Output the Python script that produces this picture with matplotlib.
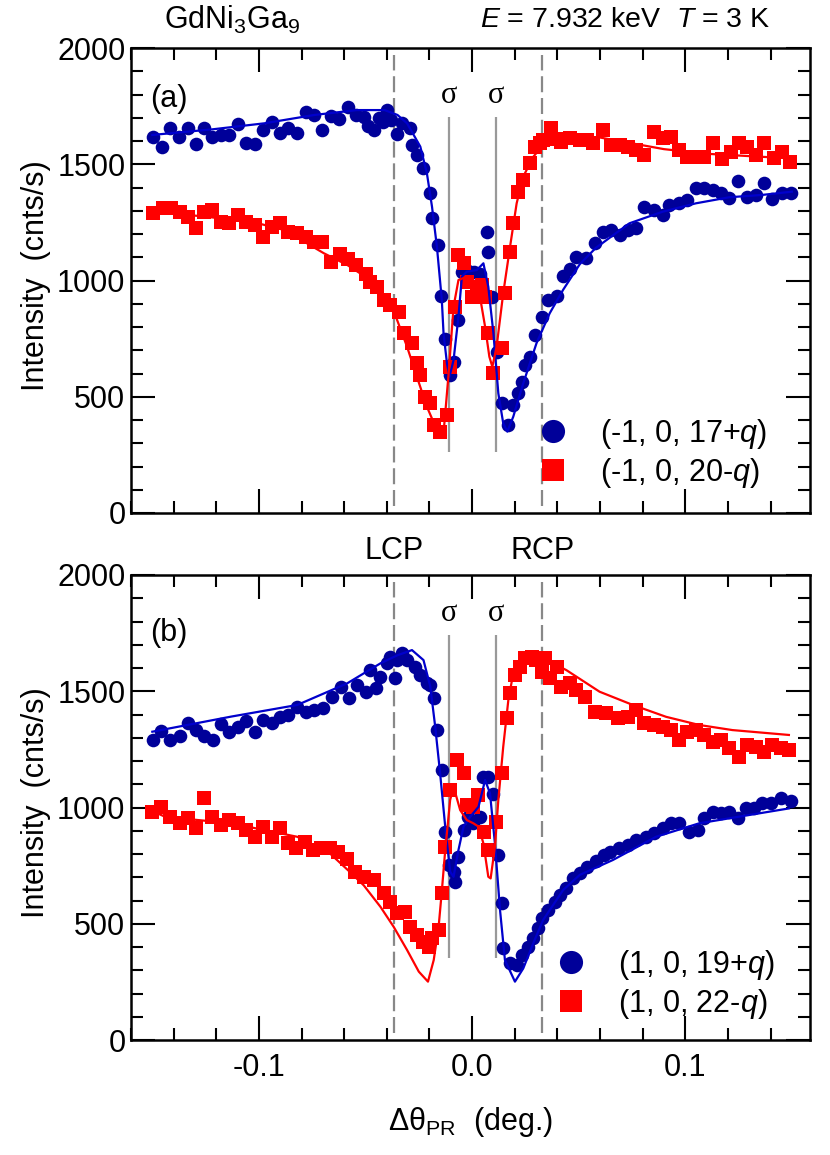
import matplotlib
matplotlib.use("Agg")
import matplotlib.pyplot as plt
from matplotlib.ticker import MultipleLocator

plt.rcParams['font.family'] = ['Liberation Sans', 'DejaVu Sans']
plt.rcParams['mathtext.fontset'] = 'custom'
plt.rcParams['mathtext.rm'] = 'Liberation Sans'
plt.rcParams['mathtext.it'] = 'Liberation Sans:italic'
plt.rcParams['mathtext.bf'] = 'Liberation Sans:bold'

# ---------------- data: panel (a) ----------------
a_blue_x = [-0.1497, -0.1453, -0.1415, -0.1375, -0.1333, -0.1297, -0.1258, -0.1220, -0.1178, -0.1139,
            -0.1100, -0.1060, -0.1019, -0.0980, -0.0940, -0.0900, -0.0863, -0.0820, -0.0780, -0.0742,
            -0.0702, -0.0664, -0.0625, -0.0583, -0.0544, -0.0508, -0.0490, -0.0460, -0.0438, -0.0420,
            -0.0400, -0.0380, -0.0352, -0.0329, -0.0293, -0.0282, -0.0259, -0.0228, -0.0196, -0.0188,
            -0.0162, -0.0145, -0.0126, -0.0103, -0.0084, -0.0064, -0.0048, -0.0020, 0.0010, 0.0035,
            0.0069, 0.0076, 0.0092, 0.0115, 0.0139, 0.0170, 0.0193, 0.0217, 0.0232, 0.0248,
            0.0271, 0.0294, 0.0326, 0.0357, 0.0396, 0.0427, 0.0458, 0.0489, 0.0536, 0.0575,
            0.0614, 0.0653, 0.0692, 0.0730, 0.0770, 0.0808, 0.0855, 0.0894, 0.0925, 0.0972,
            0.1010, 0.1050, 0.1089, 0.1128, 0.1167, 0.1206, 0.1249, 0.1291, 0.1330, 0.1369,
            0.1408, 0.1455, 0.1494]
a_blue_y = [1618, 1575, 1655, 1618, 1655, 1587, 1655, 1618, 1626, 1626,
            1673, 1590, 1587, 1647, 1683, 1633, 1655, 1636, 1726, 1712,
            1647, 1707, 1693, 1747, 1712, 1704, 1664, 1647, 1698, 1680,
            1733, 1690, 1630, 1677, 1655, 1583, 1540, 1483, 1375, 1268,
            1153, 934, 747, 594, 651, 830, 1038, 1040, 1035, 1030,
            1210, 1124, 930, 694, 472, 378, 464, 515, 565, 637,
            672, 766, 844, 916, 935, 1020, 1050, 1103, 1095, 1160,
            1210, 1217, 1196, 1217, 1224, 1317, 1303, 1282, 1325, 1332,
            1346, 1396, 1396, 1389, 1375, 1353, 1429, 1360, 1368, 1418,
            1349, 1375, 1375]

a_red_x = [-0.1497, -0.1450, -0.1411, -0.1372, -0.1333, -0.1297, -0.1258, -0.1220, -0.1180, -0.1139,
           -0.1100, -0.1060, -0.1019, -0.0980, -0.0940, -0.0900, -0.0863, -0.0820, -0.0780, -0.0742,
           -0.0702, -0.0660, -0.0621, -0.0582, -0.0543, -0.0500, -0.0477, -0.0445, -0.0414, -0.0383,
           -0.0344, -0.0320, -0.0282, -0.0259, -0.0243, -0.0220, -0.0196, -0.0180, -0.0150, -0.0118,
           -0.0103, -0.0079, -0.0064, -0.0040, -0.0025, 0.0000, 0.0022, 0.0045, 0.0061, 0.0076,
           0.0100, 0.0139, 0.0154, 0.0178, 0.0193, 0.0217, 0.0240, 0.0271, 0.0294, 0.0318,
           0.0333, 0.0372, 0.0395, 0.0419, 0.0458, 0.0505, 0.0540, 0.0567, 0.0614, 0.0653,
           0.0692, 0.0730, 0.0770, 0.0808, 0.0855, 0.0894, 0.0933, 0.0972, 0.1010, 0.1050,
           0.1089, 0.1128, 0.1171, 0.1213, 0.1252, 0.1291, 0.1330, 0.1369, 0.1416, 0.1452,
           0.1489]
a_red_y = [1289, 1310, 1310, 1296, 1274, 1224, 1296, 1303, 1253, 1246,
           1282, 1253, 1239, 1188, 1232, 1246, 1210, 1203, 1188, 1167,
           1167, 1078, 1113, 1092, 1066, 1028, 995, 970, 916, 895,
           866, 773, 730, 644, 594, 500, 472, 378, 350, 422,
           629, 887, 1110, 1074, 995, 930, 973, 981, 930, 773,
           601, 708, 945, 1124, 1246, 1382, 1432, 1504, 1575, 1590,
           1604, 1655, 1610, 1597, 1611, 1604, 1605, 1590, 1647, 1583,
           1583, 1575, 1561, 1540, 1640, 1611, 1618, 1561, 1532, 1532,
           1532, 1590, 1521, 1554, 1590, 1575, 1540, 1590, 1525, 1554,
           1511]

a_blue_fit_x = [-0.150, -0.122, -0.0975, -0.074, -0.054, -0.041, -0.035, -0.0305, -0.0243, -0.0212,
                -0.0188, -0.0165, -0.0142, -0.0134, -0.0118, -0.0106, -0.0087, -0.0064, -0.0048, -0.0025,
                0.0022, 0.0053, 0.0076, 0.0100, 0.0123, 0.0146, 0.0165, 0.0193, 0.0240, 0.0302,
                0.0364, 0.0427, 0.0505, 0.0580, 0.0738, 0.0894, 0.1050, 0.1206, 0.1360, 0.1500]
a_blue_fit_y = [1626, 1650, 1676, 1712, 1733, 1733, 1712, 1676, 1576, 1461,
                1317, 1145, 916, 773, 644, 586, 658, 844, 1016, 1038,
                1045, 1074, 973, 773, 515, 386, 350, 414, 558, 730,
                859, 960, 1070, 1140, 1246, 1296, 1332, 1358, 1368, 1382]

a_red_fit_x = [-0.150, -0.125, -0.100, -0.088, -0.0695, -0.0586, -0.0477, -0.0368, -0.0305, -0.0259,
               -0.0212, -0.0165, -0.0134, -0.0110, -0.0087, -0.0064, -0.0025, 0.0006, 0.0037, 0.0061,
               0.0081, 0.0095, 0.0115, 0.0146, 0.0178, 0.0209, 0.0240, 0.0287, 0.0333, 0.0427,
               0.0600, 0.0750, 0.0900, 0.1100, 0.1300, 0.1500]
a_red_fit_y = [1295, 1275, 1245, 1217, 1117, 1067, 1002, 870, 715, 586,
               457, 357, 343, 601, 887, 1002, 1016, 995, 930, 801,
               672, 629, 715, 945, 1145, 1332, 1447, 1532, 1583, 1625,
               1615, 1590, 1565, 1545, 1535, 1525]

# ---------------- data: panel (b) ----------------
b_blue_x = [-0.1497, -0.1458, -0.1415, -0.1372, -0.1333, -0.1294, -0.1256, -0.1217, -0.1178, -0.1139,
            -0.1100, -0.1060, -0.1019, -0.0980, -0.0940, -0.0900, -0.0863, -0.0820, -0.0780, -0.0742,
            -0.0698, -0.0656, -0.0617, -0.0578, -0.0539, -0.0500, -0.0480, -0.0453, -0.0430, -0.0399,
            -0.0383, -0.0360, -0.0352, -0.0329, -0.0305, -0.0266, -0.0243, -0.0212, -0.0196, -0.0180,
            -0.0165, -0.0142, -0.0126, -0.0110, -0.0087, -0.0079, -0.0064, -0.0040, -0.0017, 0.0006,
            0.0037, 0.0053, 0.0076, 0.0097, 0.0123, 0.0139, 0.0146, 0.0178, 0.0209, 0.0232,
            0.0263, 0.0287, 0.0310, 0.0326, 0.0357, 0.0388, 0.0411, 0.0442, 0.0474, 0.0505,
            0.0540, 0.0580, 0.0617, 0.0645, 0.0690, 0.0730, 0.0770, 0.0816, 0.0855, 0.0894,
            0.0933, 0.0972, 0.1019, 0.1058, 0.1089, 0.1128, 0.1167, 0.1206, 0.1245, 0.1283,
            0.1322, 0.1362, 0.1400, 0.1447, 0.1494]
b_blue_y = [1290, 1330, 1290, 1307, 1362, 1333, 1307, 1290, 1359, 1326,
            1347, 1373, 1326, 1376, 1362, 1388, 1398, 1433, 1412, 1419,
            1426, 1476, 1520, 1470, 1527, 1498, 1591, 1513, 1563, 1620,
            1649, 1556, 1634, 1663, 1634, 1606, 1570, 1534, 1527, 1470,
            1333, 1161, 896, 753, 724, 681, 788, 903, 960, 932,
            960, 1132, 1130, 1058, 796, 588, 394, 330, 323, 366,
            401, 437, 480, 523, 559, 595, 624, 652, 695, 720,
            745, 770, 795, 810, 825, 839, 860, 874, 889, 910,
            932, 932, 896, 903, 953, 982, 975, 982, 953, 996,
            996, 1018, 1018, 1039, 1029]

b_red_x = [-0.1500, -0.1458, -0.1415, -0.1372, -0.1333, -0.1297, -0.1256, -0.1220, -0.1180, -0.1139,
           -0.1100, -0.1060, -0.1019, -0.0980, -0.0940, -0.0900, -0.0863, -0.0824, -0.0785, -0.0746,
           -0.0707, -0.0668, -0.0630, -0.0588, -0.0547, -0.0508, -0.0461, -0.0414, -0.0383, -0.0352,
           -0.0313, -0.0290, -0.0259, -0.0228, -0.0204, -0.0188, -0.0157, -0.0142, -0.0126, -0.0103,
           -0.0072, -0.0040, -0.0025, 0.0006, 0.0029, 0.0056, 0.0076, 0.0112, 0.0139, 0.0162,
           0.0178, 0.0201, 0.0224, 0.0248, 0.0279, 0.0302, 0.0326, 0.0341, 0.0364, 0.0396,
           0.0419, 0.0458, 0.0489, 0.0528, 0.0575, 0.0629, 0.0684, 0.0730, 0.0770, 0.0808,
           0.0855, 0.0894, 0.0933, 0.0972, 0.1010, 0.1050, 0.1089, 0.1128, 0.1167, 0.1206,
           0.1252, 0.1291, 0.1330, 0.1369, 0.1408, 0.1447, 0.1486]
b_red_y = [982, 1003, 960, 932, 953, 910, 1039, 960, 925, 946,
           932, 903, 874, 917, 874, 910, 846, 824, 853, 817,
           824, 824, 810, 778, 724, 702, 688, 631, 595, 545,
           552, 487, 452, 423, 401, 437, 473, 631, 831, 1075,
           1204, 1147, 1011, 1003, 1054, 896, 817, 939, 1147, 1384,
           1491, 1570, 1606, 1641, 1649, 1634, 1584, 1641, 1556, 1606,
           1520, 1534, 1505, 1476, 1412, 1405, 1384, 1391, 1419, 1362,
           1355, 1347, 1333, 1290, 1326, 1333, 1312, 1283, 1290, 1255,
           1218, 1269, 1261, 1240, 1269, 1255, 1247]

b_blue_fit_x = [-0.150, -0.113, -0.082, -0.0586, -0.043, -0.035, -0.0282, -0.0228, -0.0196, -0.0173,
                -0.0150, -0.0126, -0.0103, -0.0087, -0.0064, -0.0040, -0.0009, 0.0030, 0.0061, 0.0084,
                0.0107, 0.0131, 0.0154, 0.0201, 0.0240, 0.0287, 0.0333, 0.0427, 0.0505, 0.0660,
                0.0863, 0.1065, 0.1486]
b_blue_fit_y = [1326, 1391, 1441, 1534, 1620, 1655, 1677, 1634, 1520, 1347,
                1147, 917, 724, 702, 817, 918, 960, 1003, 1118, 1061,
                846, 559, 344, 251, 308, 416, 516, 645, 710, 774,
                874, 932, 996]

b_red_fit_x = [-0.150, -0.144, -0.113, -0.082, -0.0664, -0.0570, -0.0508, -0.0430, -0.0368, -0.0305,
               -0.0250, -0.0207, -0.0180, -0.0157, -0.0142, -0.0126, -0.0103, -0.0087, -0.0056, -0.0025,
               0.0006, 0.0030, 0.0053, 0.0076, 0.0087, 0.0107, 0.0123, 0.0146, 0.0170, 0.0193,
               0.0224, 0.0271, 0.0318, 0.0350, 0.0442, 0.0598, 0.0754, 0.0910, 0.1065, 0.1221,
               0.1486]
b_red_fit_y = [985, 960, 932, 874, 800, 720, 665, 573, 487, 387,
               294, 251, 344, 487, 640, 817, 1032, 1090, 989, 946,
               932, 918, 846, 702, 695, 831, 1032, 1261, 1462, 1577,
               1634, 1663, 1649, 1634, 1591, 1498, 1441, 1390, 1355, 1333,
               1312]

labels_a = ['(-1, 0, 17+$q$)', '(-1, 0, 20-$q$)']
labels_b = ['(1, 0, 19+$q$)', '(1, 0, 22-$q$)']
x_ticks = [-0.1, 0.0, 0.1]
x_ticklabels = ['-0.1', '0.0', '0.1']
y_ticks = [0, 500, 1000, 1500, 2000]
circ_pol = [-0.0365, 0.0330]     # LCP / RCP dashed lines
sigma_pos = [-0.0110, 0.0112]    # sigma lines
sigma_span_a = (262, 1705)
sigma_span_b = (353, 1740)

BLUE_PT = '#000099'
BLUE_LN = '#0000cc'
RED = '#ff0000'
FS = 22

fig = plt.figure(figsize=(8.30, 11.55), dpi=100)
W, H = 830.0, 1155.0
ax1 = fig.add_axes([131 / W, 1 - 513 / H, 679 / W, 465 / H])
ax2 = fig.add_axes([131 / W, 1 - 1040 / H, 679 / W, 465 / H])


def draw(ax, bx, by, rx, ry, bfx, bfy, rfx, rfy, labels, sig_span, leg_x, leg_y):
    for xv in circ_pol:
        ax.axvline(xv, ymin=0.015, ymax=0.985, color='#888888', lw=1.6,
                   ls=(0, (7.2, 2.6)), zorder=1)
    ax.vlines(sigma_pos, sig_span[0], sig_span[1], color='#999999', lw=1.6, zorder=1)
    ax.plot(bx, by, 'o', color=BLUE_PT, ms=9.8, mew=0, zorder=3, label=labels[0])
    ax.plot(rx, ry, 's', color=RED, ms=9.6, mew=0, zorder=3, label=labels[1])
    ax.plot(bfx, bfy, '-', color=BLUE_LN, lw=1.6, zorder=4)
    ax.plot(rfx, rfy, '-', color=RED, lw=1.6, zorder=4)
    ax.set_xlim(-0.16, 0.1585)
    ax.set_ylim(0, 2000)
    ax.set_xticks(x_ticks)
    ax.set_yticks(y_ticks)
    ax.xaxis.set_minor_locator(MultipleLocator(0.02))
    ax.yaxis.set_minor_locator(MultipleLocator(100))
    ax.tick_params(which='both', direction='in', top=True, right=True, width=1.5)
    ax.tick_params(which='major', length=17, labelsize=FS, pad=4)
    ax.tick_params(which='minor', length=8.5)
    for s in ax.spines.values():
        s.set_linewidth(1.8)
    ax.set_ylabel('Intensity  (cnts/s)', fontsize=FS)
    ax.yaxis.set_label_coords(-0.118, 0.51)
    for xv in sigma_pos:
        ax.text(xv, sig_span[1] + 30, 'σ', fontsize=FS, family='Liberation Serif',
                ha='center', va='bottom')
    ax.legend(loc='center left', bbox_to_anchor=(leg_x, leg_y), frameon=False,
              fontsize=FS, markerscale=1.7, handlelength=1.0, handletextpad=1.04,
              labelspacing=0.16, borderpad=0, borderaxespad=0)


draw(ax1, a_blue_x, a_blue_y, a_red_x, a_red_y, a_blue_fit_x, a_blue_fit_y,
     a_red_fit_x, a_red_fit_y, labels_a, sigma_span_a, 0.599, 0.128)
draw(ax2, b_blue_x, b_blue_y, b_red_x, b_red_y, b_blue_fit_x, b_blue_fit_y,
     b_red_fit_x, b_red_fit_y, labels_b, sigma_span_b, 0.6255, 0.120)

ax1.set_xticklabels([])
ax2.set_xticklabels(x_ticklabels)
ax2.tick_params(axis='x', which='major', pad=9)
ax2.set_xlabel('Δθ$_{\\mathrm{PR}}$  (deg.)', fontsize=FS)
ax2.xaxis.set_label_coords(0.5, -0.14)

ax1.text(0.028, 0.89, '(a)', transform=ax1.transAxes, fontsize=FS, va='center')
ax2.text(0.028, 0.875, '(b)', transform=ax2.transAxes, fontsize=FS, va='center')

ax2.text(circ_pol[0], 1.02, 'LCP', transform=ax2.get_xaxis_transform(),
         fontsize=FS, ha='center', va='bottom')
ax2.text(circ_pol[1], 1.02, 'RCP', transform=ax2.get_xaxis_transform(),
         fontsize=FS, ha='center', va='bottom')

fig.text(232 / W, 1 - 20 / H, 'GdNi$_3$Ga$_9$', fontsize=FS, ha='center', va='center')
fig.text(662 / W, 1 - 20 / H, '$E$ = 7.932 keV', fontsize=20.5, ha='right', va='center')
fig.text(676 / W, 1 - 20 / H, '$T$ = 3 K', fontsize=20.5, ha='left', va='center')

fig.savefig('out.png', dpi=100)
